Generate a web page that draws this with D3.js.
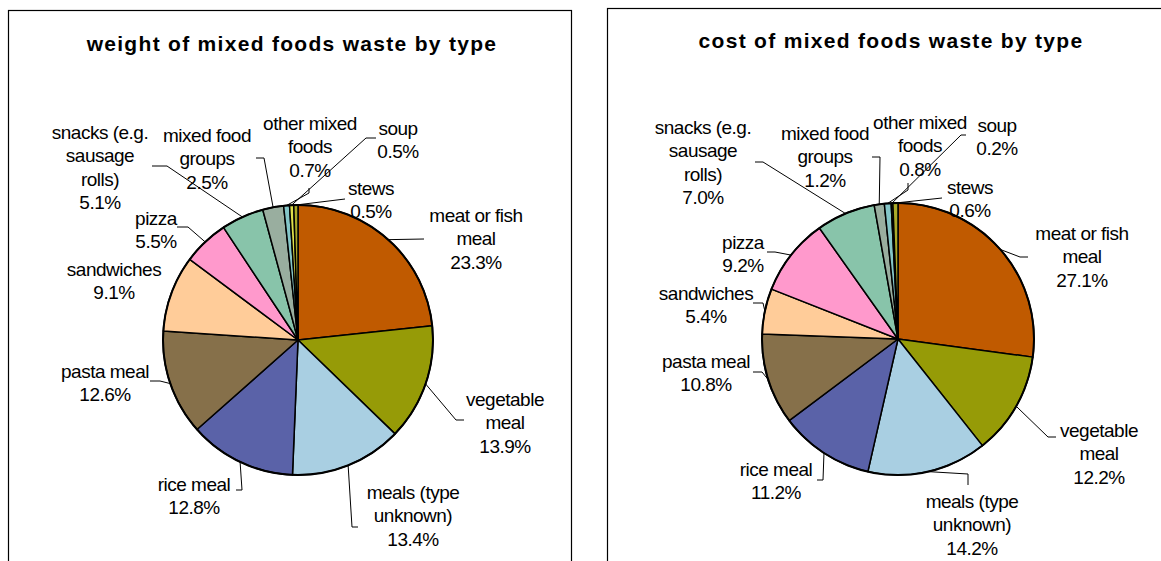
<!DOCTYPE html>
<html>
<head>
<meta charset="utf-8">
<script src="https://cdn.jsdelivr.net/npm/d3@7"></script>
<style>
  body { margin: 0; background: #fff; }
  svg { display: block; font-family: "Liberation Sans", Arial, sans-serif; }
</style>
</head>
<body>
<div id="chart"></div>
<script>
// categories, clockwise from 12 o'clock
const categories = [
  "meat or fish meal", "vegetable meal", "meals (type unknown)", "rice meal",
  "pasta meal", "sandwiches", "pizza", "snacks (e.g. sausage rolls)",
  "mixed food groups", "other mixed foods", "soup", "stews"
];
// how each label wraps in the chart
const labelLines = [
  ["meat or fish", "meal"], ["vegetable", "meal"], ["meals (type", "unknown)"], ["rice meal"],
  ["pasta meal"], ["sandwiches"], ["pizza"], ["snacks (e.g.", "sausage", "rolls)"],
  ["mixed food", "groups"], ["other mixed", "foods"], ["soup"], ["stews"]
];
// % share of mixed foods waste
const weightShare = [23.3, 13.9, 13.4, 12.8, 12.6, 9.1, 5.5, 5.1, 2.5, 0.7, 0.5, 0.5];
const costShare   = [27.1, 12.2, 14.2, 11.2, 10.8, 5.4, 9.2, 7.0, 1.2, 0.8, 0.2, 0.6];

const colors = ["#c05a00", "#969b07", "#a9cfe2", "#5a62a8", "#86704a", "#ffcc99",
  "#ff99cc", "#88c4aa", "#99ae9f", "#84c6c8", "#dede4a", "#aaaa2a"];

const W = 1161, H = 561;
const svg = d3.select("#chart").append("svg")
  .attr("width", W)
  .attr("height", H);

// layout of each panel: label centre (first line) and leader elbow points
const panels = [
  {
    title: "weight of mixed foods waste by type",
    values: weightShare,
    box: { x: 8.5, y: 10.5, w: 563 },
    titleX: 292, titleY: 51,
    cx: 298, cy: 340, r: 135,
    labels: [
      [476, 215], [505, 399], [413, 492], [194, 484], [105, 371], [114, 269],
      [156, 218], [100, 132], [207, 135], [310, 123], [398, 128], [371, 188]
    ],
    leaders: [
      [[424, 239]], [[464, 420], [456, 420]], [[358, 527], [352, 527]], [[236, 490], [242, 490]],
      [[150, 381], [160, 381]], null, [[177, 227], [188, 227]], [[152, 166], [167, 166]],
      [[256, 158], [264, 158]], [[309, 188], [309, 193]], [[376, 138], [366, 138]], [[345, 199]]
    ]
  },
  {
    title: "cost of mixed foods waste by type",
    values: costShare,
    box: { x: 607.5, y: 8.5, w: 600 },
    titleX: 891, titleY: 48,
    cx: 898, cy: 339, r: 136,
    labels: [
      [1082, 233], [1099, 430], [972, 501], [776, 469], [706, 361], [706, 293],
      [743, 242], [703, 127], [825, 133], [920, 122], [997, 125], [970, 187]
    ],
    leaders: [
      [[1028, 257], [1020, 257]], [[1056, 437], [1048, 437]], [[968, 485], [968, 474]], [[817, 480], [823, 480]],
      [[753, 372], [762, 372]], [[753, 303], [763, 303]], [[767, 252], [775, 252]], [[755, 162], [763, 162]],
      [[872, 157], [880, 157]], [[908, 183], [908, 190]], [[966, 135], [961, 135]], [[942, 198]]
    ]
  }
];

const pie = d3.pie().sort(null).value(d => d);
const lineH = 23.5;

panels.forEach(p => {
  // panel frame
  svg.append("rect")
    .attr("x", p.box.x)
    .attr("y", p.box.y)
    .attr("width", p.box.w)
    .attr("height", H + 20)
    .attr("fill", "#fff")
    .attr("stroke", "#000")
    .attr("stroke-width", 1.2);

  // title
  svg.append("text")
    .attr("x", p.titleX)
    .attr("y", p.titleY)
    .attr("text-anchor", "middle")
    .style("font-size", "21px")
    .style("font-weight", "bold")
    .style("letter-spacing", "1.3px")
    .text(p.title);

  const g = svg.append("g")
    .attr("transform", `translate(${p.cx},${p.cy})`);

  const arcs = pie(p.values);
  const arc = d3.arc().innerRadius(0).outerRadius(p.r);
  const edge = d3.arc().innerRadius(p.r).outerRadius(p.r);

  g.selectAll("path.slice")
    .data(arcs)
    .join("path")
    .attr("class", "slice")
    .attr("d", arc)
    .attr("fill", (d, i) => colors[i])
    .attr("stroke", "#000")
    .attr("stroke-width", 1.5)
    .attr("stroke-linejoin", "round");

  // outer rim a touch heavier
  g.append("circle")
    .attr("r", p.r)
    .attr("fill", "none")
    .attr("stroke", "#000")
    .attr("stroke-width", 2);

  // leader lines: elbow points then the slice edge
  const leaderLine = d3.line();
  arcs.forEach((d, i) => {
    if (!p.leaders[i]) return;
    const [ex, ey] = edge.centroid(d);
    const pts = p.leaders[i].concat([[p.cx + ex, p.cy + ey]]);
    svg.append("path")
      .attr("d", leaderLine(pts))
      .attr("fill", "none")
      .attr("stroke", "#000")
      .attr("stroke-width", 1);
  });

  // labels
  arcs.forEach((d, i) => {
    const lines = labelLines[i].concat([d.data.toFixed(1) + "%"]);
    const [lx, ly] = p.labels[i];
    const t = svg.append("text")
      .attr("text-anchor", "middle")
      .style("font-size", "19px")
      .style("letter-spacing", "-0.5px");
    lines.forEach((s, k) => {
      t.append("tspan")
        .attr("x", lx)
        .attr("y", ly + k * lineH + 6.5)
        .text(s);
    });
  });
});
</script>
</body>
</html>
